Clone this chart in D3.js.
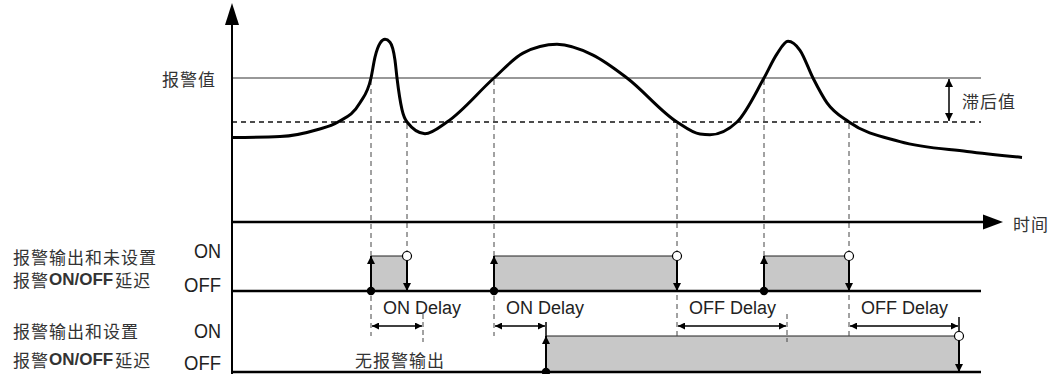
<!DOCTYPE html>
<html><head><meta charset="utf-8">
<script src="https://cdn.jsdelivr.net/npm/d3@7"></script>
<style>
html,body{margin:0;padding:0;background:#fff;}
svg{display:block;}
.cjk{font-family:"Noto Sans CJK SC","Noto Sans",sans-serif;font-size:17px;fill:#333;letter-spacing:1px;}
.lat{font-family:"Liberation Sans",Arial,sans-serif;fill:#222;}
</style></head><body>
<svg id="chart" width="1058" height="374"></svg>
<script>
// Measured process value over time
const curveTime  = [0, 4.8, 8.5, 10.6, 12.8, 13.9, 14.3, 14.8, 15.3, 15.8, 16.3, 16.5, 17.0, 17.5, 19.3, 21.5, 26.2, 29.1, 32.5, 36.1, 39.5, 44.5, 46.8, 47.8, 50.5, 53.2, 54.5, 55.6, 56.8, 58.1, 59.5, 61.7, 66.8, 73.5, 79.0];
const curveValue = [72.9, 73.4, 76.5, 80, 88.7, 100, 109.5, 115.8, 117.6, 116.3, 108.1, 100, 85.6, 80, 74.7, 80, 100, 111.3, 115.3, 110.4, 100, 80, 74.5, 74.2, 80, 100, 111, 116.7, 112.6, 100, 88.7, 80, 71.1, 66.6, 63.9];

// Thresholds
const alarmValue = 100;
const hysteresisValue = 80;

// Alarm output without ON/OFF delay
const rawOn  = [13.9, 26.2, 53.2];
const rawOff = [17.5, 44.5, 61.7];

// Alarm output with ON/OFF delay
const delayedOn  = [31.4];
const delayedOff = [72.7];

// Delay spans
const delayStart  = [13.9, 26.2, 44.5, 61.7];
const delayLength = [5.2, 5.2, 11.0, 11.0];
const delayLabel  = ["ON Delay", "ON Delay", "OFF Delay", "OFF Delay"];

// Text
const stateLabels = ["ON", "OFF"];
const rowTitles = [
  ["报警输出和未设置", "报警", "ON/OFF", "延迟"],
  ["报警输出和设置", "报警", "ON/OFF", "延迟"]
];
const alarmLabel = "报警值";
const hysteresisLabel = "滞后值";
const timeLabel = "时间";
const noOutputLabel = "无报警输出";

// ---- layout ----
const svg = d3.select("#chart");
const x = d3.scaleLinear().domain([0, 79]).range([232, 1022]);
const y = d3.scaleLinear().domain([hysteresisValue, alarmValue]).range([122, 78]);
const axisX = 232, axisRight = 981, timeY = 222;
const rows = [{on: 256, off: 291}, {on: 336, off: 372}];
const delayY = 326;

const defs = svg.append("defs");
function marker(id, w, h) {
  defs.append("marker").attr("id", id)
    .attr("viewBox", "0 0 10 10").attr("refX", 10).attr("refY", 5)
    .attr("markerUnits", "userSpaceOnUse")
    .attr("markerWidth", w).attr("markerHeight", h)
    .attr("orient", "auto-start-reverse")
    .append("path").attr("d", "M0,0L10,5L0,10Z").attr("fill", "#000");
}
marker("ah", 11, 8);
marker("ahs", 10, 7);

// Output pulse fills
function pulses(row, ons, offs) {
  ons.forEach((t, i) => {
    svg.append("rect")
      .attr("x", x(t)).attr("y", row.on)
      .attr("width", x(offs[i]) - x(t)).attr("height", row.off - row.on)
      .attr("fill", "#c8c8c8");
    svg.append("line").attr("x1", x(t)).attr("x2", x(offs[i]))
      .attr("y1", row.on).attr("y2", row.on)
      .attr("stroke", "#222").attr("stroke-width", 1.2);
  });
}
pulses(rows[0], rawOn, rawOff);
pulses(rows[1], delayedOn, delayedOff);

// Threshold lines
svg.append("line").attr("x1", axisX).attr("x2", axisRight)
  .attr("y1", y(alarmValue)).attr("y2", y(alarmValue))
  .attr("stroke", "#333").attr("stroke-width", 1.2);
svg.append("line").attr("x1", axisX).attr("x2", axisRight)
  .attr("y1", y(hysteresisValue)).attr("y2", y(hysteresisValue))
  .attr("stroke", "#111").attr("stroke-width", 1.5).attr("stroke-dasharray", "5,4");

// Vertical guides from threshold crossings
function guide(t, fromY) {
  const toY = delayStart.includes(t) ? 336 : rows[0].on;
  svg.append("line").attr("x1", x(t)).attr("x2", x(t))
    .attr("y1", fromY).attr("y2", toY)
    .attr("stroke", "#444").attr("stroke-width", 1).attr("stroke-dasharray", "5,4");
}
rawOn.forEach(t => guide(t, y(alarmValue) + 2));
rawOff.forEach(t => guide(t, y(hysteresisValue) + 2));

// Process value curve
svg.append("path")
  .datum(curveTime.map((t, i) => [t, curveValue[i]]))
  .attr("d", d3.line().x(d => x(d[0])).y(d => y(d[1])).curve(d3.curveMonotoneX))
  .attr("fill", "none").attr("stroke", "#000").attr("stroke-width", 3);

// Axes
svg.append("line").attr("x1", axisX).attr("x2", axisX).attr("y1", 374).attr("y2", 22)
  .attr("stroke", "#000").attr("stroke-width", 2);
svg.append("path").attr("d", `M${axisX},3L${axisX - 7},25L${axisX + 7},25Z`).attr("fill", "#000");
svg.append("line").attr("x1", axisX).attr("x2", 985).attr("y1", timeY).attr("y2", timeY)
  .attr("stroke", "#000").attr("stroke-width", 2.5);
svg.append("path").attr("d", `M1003,${timeY}L983,${timeY - 7.5}L983,${timeY + 7.5}Z`).attr("fill", "#000");
rows.forEach(r => {
  svg.append("line").attr("x1", axisX).attr("x2", axisRight).attr("y1", r.off).attr("y2", r.off)
    .attr("stroke", "#000").attr("stroke-width", 2.5);
});

// Hysteresis span arrow
svg.append("line").attr("x1", 949).attr("x2", 949)
  .attr("y1", y(alarmValue) + 1).attr("y2", y(hysteresisValue) - 1)
  .attr("stroke", "#000").attr("stroke-width", 1.5)
  .attr("marker-start", "url(#ah)").attr("marker-end", "url(#ah)");

// Edge arrows
function edges(row, ons, offs, extendOn, extendOff) {
  ons.forEach(t => {
    if (extendOn) svg.append("line").attr("x1", x(t)).attr("x2", x(t)).attr("y1", extendOn).attr("y2", row.on)
      .attr("stroke", "#000").attr("stroke-width", 1.5);
    svg.append("line").attr("x1", x(t)).attr("x2", x(t)).attr("y1", row.off).attr("y2", row.on)
      .attr("stroke", "#000").attr("stroke-width", 2).attr("marker-end", "url(#ah)");
    svg.append("circle").attr("cx", x(t)).attr("cy", row.off).attr("r", 4.2).attr("fill", "#000");
  });
  offs.forEach(t => {
    if (extendOff) svg.append("line").attr("x1", x(t)).attr("x2", x(t)).attr("y1", extendOff).attr("y2", row.on)
      .attr("stroke", "#000").attr("stroke-width", 1.5);
    svg.append("line").attr("x1", x(t)).attr("x2", x(t)).attr("y1", row.on + 4).attr("y2", row.off)
      .attr("stroke", "#000").attr("stroke-width", 2).attr("marker-end", "url(#ah)");
    svg.append("circle").attr("cx", x(t)).attr("cy", row.on).attr("r", 4.5)
      .attr("fill", "#fff").attr("stroke", "#000").attr("stroke-width", 1.2);
  });
}
edges(rows[0], rawOn, rawOff, null, null);
edges(rows[1], delayedOn, delayedOff, 322, 317);

// Delay spans
delayStart.forEach((t, i) => {
  const end = t + delayLength[i];
  svg.append("line").attr("x1", x(t) + 1).attr("x2", x(end) - 1).attr("y1", delayY).attr("y2", delayY)
    .attr("stroke", "#000").attr("stroke-width", 1.5)
    .attr("marker-start", "url(#ahs)").attr("marker-end", "url(#ahs)");
  const isEdge = delayedOn.some(v => Math.abs(v - end) < 0.05) || delayedOff.some(v => Math.abs(v - end) < 0.05);
  if (!isEdge) {
    svg.append("line").attr("x1", x(end)).attr("x2", x(end)).attr("y1", 314).attr("y2", 342)
      .attr("stroke", "#444").attr("stroke-width", 1).attr("stroke-dasharray", "5,3");
  }
  svg.append("text").attr("class", "lat").attr("font-size", 18)
    .attr("x", x(t) + 12).attr("y", 314).text(delayLabel[i]);
});

// State labels
rows.forEach((r, i) => {
  svg.append("text").attr("class", "lat").attr("font-size", 20).attr("text-anchor", "end")
    .attr("x", 221).attr("y", r.on + 2).attr("textLength", 27).attr("lengthAdjust", "spacingAndGlyphs")
    .text(stateLabels[0]);
  svg.append("text").attr("class", "lat").attr("font-size", 20).attr("text-anchor", "end")
    .attr("x", 221).attr("y", i === 0 ? r.off + 1 : r.off - 2).attr("textLength", 37).attr("lengthAdjust", "spacingAndGlyphs")
    .text(stateLabels[1]);
});

// Row titles
const titleY = [[256, 279], [330, 359]];
rowTitles.forEach((rt, i) => {
  svg.append("text").attr("class", "cjk").attr("x", 13).attr("y", titleY[i][0])
    .attr("dominant-baseline", "central").text(rt[0]);
  const t2 = svg.append("text").attr("class", "cjk").attr("x", 13).attr("y", titleY[i][1])
    .attr("dominant-baseline", "central");
  t2.append("tspan").text(rt[1]);
  t2.append("tspan").attr("font-family", "Liberation Sans, Arial, sans-serif")
    .attr("font-weight", "bold").attr("font-size", 17).style("letter-spacing", "0px").text(rt[2]);
  t2.append("tspan").attr("dx", 2).text(rt[3]);
});

// Other labels
svg.append("text").attr("class", "cjk").attr("x", 162).attr("y", 78).attr("dominant-baseline", "central").text(alarmLabel);
svg.append("text").attr("class", "cjk").attr("x", 962).attr("y", 100).attr("dominant-baseline", "central").text(hysteresisLabel);
svg.append("text").attr("class", "cjk").attr("x", 1013).attr("y", 223).attr("dominant-baseline", "central").text(timeLabel);
svg.append("text").attr("class", "cjk").attr("x", 355).attr("y", 359).attr("dominant-baseline", "central").text(noOutputLabel);
</script>
</body></html>
